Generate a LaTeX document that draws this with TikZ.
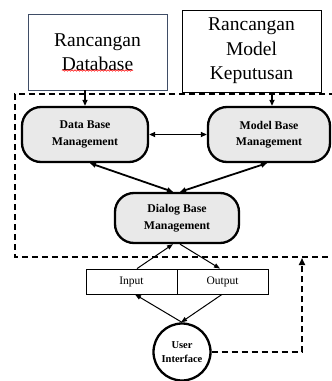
\documentclass[tikz,border=0pt]{standalone}
\usepackage{fontspec}
\setmainfont{Liberation Serif}
\usetikzlibrary{arrows.meta,decorations.pathmorphing}
\definecolor{boxblue}{HTML}{3F4D66}
\definecolor{nodegray}{HTML}{E9E9E9}
\tikzset{
  topbox/.style={draw, line width=0.9pt, minimum width=139pt, align=center, inner sep=0pt,
    font=\fontsize{19.5}{24.5}\selectfont},
  mgmt/.style={draw, line width=2.3pt, fill=nodegray, rounded corners=19pt, align=center,
    inner sep=0pt, font=\fontsize{11.8}{16.5}\selectfont\bfseries},
  iobox/.style={draw, line width=0.8pt, minimum width=91pt, minimum height=25pt, inner sep=0pt,
    font=\fontsize{11.5}{12}\selectfont},
  bigarrow/.style={line width=1.8pt, -{Triangle[length=6pt,width=5pt]}},
  bigdouble/.style={line width=1.8pt, {Triangle[length=6pt,width=5pt]}-{Triangle[length=6pt,width=5pt]}},
  thinarrow/.style={line width=1pt, -{Triangle[length=6pt,width=4.5pt]}},
  frame/.style={line width=1.6pt, dash pattern=on 6pt off 4pt},
}
\begin{document}
\begin{tikzpicture}[x=1pt,y=-1pt]
\useasboundingbox (0,0) rectangle (332,381);
\clip (0,0) rectangle (332,381);
% dashed frame
\draw[frame] (335,94) -- (15,94) -- (15,257) -- (335,257);
% top boxes
\node[topbox, draw=boxblue, minimum height=76pt] (rdb) at (97.5,52) {Rancangan\\Database};
\node[topbox, minimum height=82pt] (rmk) at (251.5,51) {Rancangan\\Model\\Keputusan};
\draw[red, line width=0.5pt, decorate, decoration={snake, amplitude=0.8pt, segment length=3pt}] (62,70.5) -- (133,70.5);
% management nodes
\node[mgmt, minimum width=126pt, minimum height=55pt] (dbm) at (85,134.5) {Data Base\\Management};
\node[mgmt, minimum width=122pt, minimum height=55pt] (mbm) at (269,134.5) {Model Base\\Management};
\node[mgmt, minimum width=124pt, minimum height=50pt] (dlg) at (177,218) {Dialog Base\\Management};
% input/output
\node[iobox] (inp) at (131.5,281.5) {Input};
\node[iobox] (outp) at (222.5,281.5) {Output};
% user interface
\node[circle, draw, line width=2.3pt, minimum size=57pt, inner sep=0pt, align=center,
  font=\fontsize{10.5}{13.5}\selectfont\bfseries] (ui) at (182,352) {User\\Interface};
% arrows
\draw[bigarrow] (dbm.north |- rdb.south) -- (dbm.north);
\draw[bigarrow] ([xshift=3pt]mbm.north |- rmk.south) -- ([xshift=3pt]mbm.north);
\draw[bigdouble] (dbm.east) -- (mbm.west);
\draw[bigdouble] ([xshift=5pt]dbm.south) -- ([xshift=-4pt]dlg.north);
\draw[bigdouble] ([xshift=-2pt]mbm.south) -- ([xshift=3pt]dlg.north);
\draw[thinarrow] ([xshift=5.5pt]inp.north) -- ([xshift=-4pt]dlg.south);
\draw[thinarrow] ([xshift=3pt]dlg.south) -- ([xshift=-2.5pt]outp.north);
\draw[thinarrow] (ui.north) -- ([xshift=3.5pt]inp.south);
\draw[thinarrow] ([xshift=-0.5pt]outp.south) -- ([xshift=-1pt]ui.north);
\coordinate (corner) at (302,352);
\coordinate (frameend) at (302,258);
\draw[frame, -{Triangle[length=7pt,width=6pt]}] (ui.east) -- (corner) -- (frameend);
\end{tikzpicture}
\end{document}
